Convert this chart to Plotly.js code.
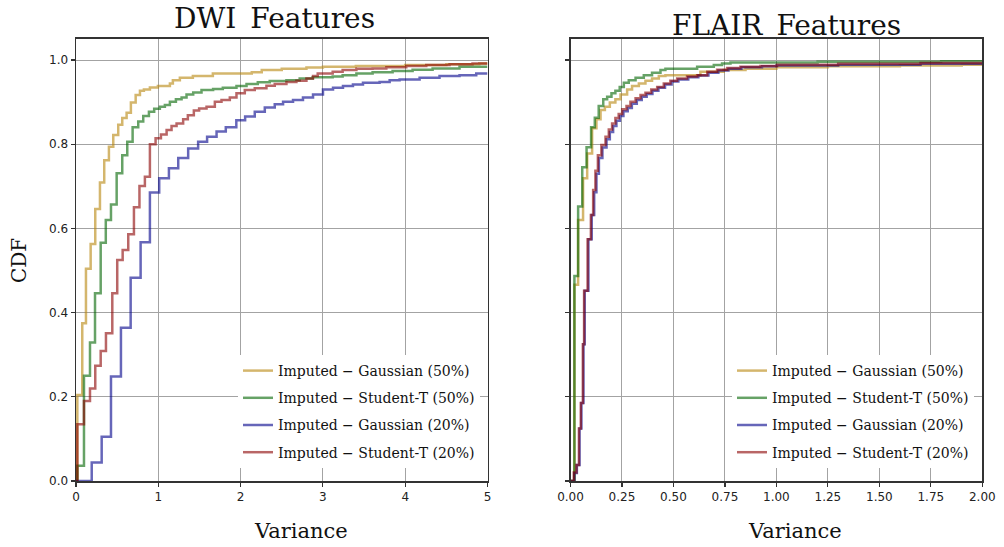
<!DOCTYPE html>
<html>
<head>
<meta charset="utf-8">
<script src="https://cdn.plot.ly/plotly-3.0.1.min.js"></script>
<style>
  html, body { margin: 0; padding: 0; background: #ffffff; }
  #chart { width: 1004px; height: 547px; }
</style>
</head>
<body>
<div id="chart"></div>
<script>
// ---------- Data ----------
const seriesNames = [
  "Imputed \u2212 Gaussian (50%)",
  "Imputed \u2212 Student-T (50%)",
  "Imputed \u2212 Gaussian (20%)",
  "Imputed \u2212 Student-T (20%)"
];

// DWI features: step CDF points (variance, cumulative fraction)
const dwiGauss50X = [0, 0.016, 0.076, 0.121, 0.178, 0.234, 0.291, 0.343, 0.400, 0.453, 0.513, 0.562, 0.615, 0.667, 0.725, 0.777, 0.825, 0.898, 0.995, 1.141, 1.177, 1.262, 1.420, 1.663, 2.136, 2.257, 2.50, 2.80, 3.00, 3.40, 4.00, 4.50, 4.90, 5.00];
const dwiGauss50Y = [0, 0.204, 0.375, 0.504, 0.563, 0.646, 0.709, 0.762, 0.794, 0.822, 0.846, 0.862, 0.875, 0.899, 0.917, 0.927, 0.930, 0.935, 0.938, 0.944, 0.952, 0.958, 0.962, 0.968, 0.971, 0.976, 0.979, 0.982, 0.984, 0.986, 0.988, 0.990, 0.992, 0.992];

const dwiStud50X = [0, 0.016, 0.097, 0.170, 0.231, 0.300, 0.362, 0.425, 0.494, 0.562, 0.623, 0.688, 0.756, 0.817, 0.886, 0.950, 1.019, 1.080, 1.141, 1.214, 1.283, 1.343, 1.424, 1.525, 1.666, 1.784, 1.950, 2.072, 2.209, 2.354, 2.557, 2.718, 2.876, 3.119, 3.240, 3.407, 3.604, 3.847, 4.090, 4.333, 4.660, 5.000];
const dwiStud50Y = [0, 0.036, 0.250, 0.329, 0.446, 0.566, 0.620, 0.657, 0.731, 0.774, 0.806, 0.840, 0.854, 0.867, 0.877, 0.884, 0.889, 0.893, 0.901, 0.907, 0.911, 0.918, 0.923, 0.929, 0.931, 0.934, 0.938, 0.943, 0.947, 0.950, 0.952, 0.956, 0.959, 0.961, 0.964, 0.968, 0.971, 0.974, 0.977, 0.980, 0.984, 0.984];

const dwiGauss20X = [0, 0.191, 0.312, 0.425, 0.546, 0.664, 0.785, 0.898, 1.011, 1.129, 1.242, 1.363, 1.484, 1.593, 1.708, 1.820, 1.948, 2.055, 2.172, 2.294, 2.415, 2.516, 2.637, 2.758, 2.880, 3.001, 3.123, 3.244, 3.365, 3.487, 3.689, 3.811, 3.932, 4.175, 4.417, 4.660, 4.863, 5.000];
const dwiGauss20Y = [0, 0.044, 0.105, 0.248, 0.364, 0.483, 0.567, 0.685, 0.719, 0.743, 0.767, 0.790, 0.806, 0.818, 0.830, 0.840, 0.857, 0.866, 0.877, 0.887, 0.895, 0.901, 0.905, 0.911, 0.918, 0.930, 0.934, 0.938, 0.942, 0.946, 0.948, 0.952, 0.954, 0.958, 0.962, 0.964, 0.968, 0.968];

const dwiStud20X = [0, 0.016, 0.097, 0.170, 0.234, 0.300, 0.364, 0.441, 0.501, 0.567, 0.635, 0.704, 0.771, 0.837, 0.898, 0.967, 1.032, 1.101, 1.161, 1.222, 1.302, 1.359, 1.432, 1.496, 1.586, 1.687, 1.768, 1.869, 1.950, 2.051, 2.172, 2.314, 2.415, 2.557, 2.678, 2.800, 2.880, 2.937, 3.119, 3.240, 3.407, 3.604, 3.771, 4.013, 4.256, 4.539, 4.818, 5.000];
const dwiStud20Y = [0, 0.135, 0.190, 0.220, 0.274, 0.309, 0.351, 0.446, 0.525, 0.549, 0.586, 0.650, 0.701, 0.723, 0.800, 0.814, 0.823, 0.834, 0.843, 0.849, 0.859, 0.869, 0.880, 0.885, 0.889, 0.901, 0.905, 0.911, 0.921, 0.929, 0.933, 0.939, 0.943, 0.948, 0.951, 0.956, 0.962, 0.968, 0.972, 0.976, 0.979, 0.980, 0.983, 0.986, 0.988, 0.990, 0.992, 0.992];

// FLAIR features
const flairGauss50X = [0, 0.019, 0.037, 0.061, 0.081, 0.105, 0.126, 0.146, 0.167, 0.191, 0.218, 0.243, 0.275, 0.299, 0.332, 0.364, 0.396, 0.429, 0.461, 0.631, 0.744, 0.850, 1.000, 1.250, 1.600, 1.900, 2.000];
const flairGauss50Y = [0, 0.466, 0.620, 0.719, 0.778, 0.838, 0.859, 0.881, 0.889, 0.899, 0.907, 0.918, 0.930, 0.938, 0.944, 0.951, 0.956, 0.962, 0.964, 0.972, 0.976, 0.979, 0.983, 0.985, 0.987, 0.989, 0.989];

const flairStud50X = [0, 0.019, 0.037, 0.057, 0.078, 0.100, 0.118, 0.137, 0.159, 0.178, 0.199, 0.218, 0.239, 0.259, 0.283, 0.316, 0.356, 0.396, 0.437, 0.461, 0.615, 0.696, 0.736, 0.777, 1.200, 1.800, 2.000];
const flairStud50Y = [0, 0.487, 0.652, 0.745, 0.793, 0.840, 0.863, 0.891, 0.907, 0.913, 0.921, 0.927, 0.936, 0.946, 0.952, 0.958, 0.964, 0.970, 0.976, 0.979, 0.984, 0.988, 0.992, 0.994, 0.996, 0.997, 0.997];

const flairGauss20X = [0, 0.019, 0.031, 0.044, 0.053, 0.063, 0.069, 0.087, 0.103, 0.115, 0.126, 0.138, 0.155, 0.175, 0.191, 0.207, 0.223, 0.240, 0.257, 0.278, 0.298, 0.322, 0.346, 0.370, 0.398, 0.427, 0.459, 0.491, 0.524, 0.572, 0.621, 0.670, 0.718, 0.767, 0.830, 0.930, 1.000, 1.300, 1.700, 2.000];
const flairGauss20Y = [0, 0.019, 0.038, 0.125, 0.185, 0.325, 0.452, 0.574, 0.632, 0.686, 0.730, 0.767, 0.792, 0.812, 0.829, 0.843, 0.856, 0.867, 0.878, 0.886, 0.896, 0.905, 0.913, 0.919, 0.927, 0.934, 0.942, 0.949, 0.954, 0.959, 0.963, 0.970, 0.975, 0.979, 0.983, 0.985, 0.987, 0.989, 0.991, 0.991];

const flairStud20X = [0, 0.016, 0.029, 0.041, 0.050, 0.060, 0.066, 0.083, 0.099, 0.110, 0.121, 0.133, 0.150, 0.170, 0.186, 0.202, 0.218, 0.234, 0.251, 0.272, 0.291, 0.316, 0.340, 0.364, 0.392, 0.421, 0.453, 0.485, 0.518, 0.566, 0.615, 0.664, 0.712, 0.761, 0.825, 0.922, 1.003, 1.300, 1.700, 2.000];
const flairStud20Y = [0, 0.020, 0.038, 0.125, 0.185, 0.325, 0.452, 0.574, 0.632, 0.691, 0.737, 0.774, 0.798, 0.818, 0.835, 0.849, 0.862, 0.872, 0.883, 0.891, 0.901, 0.909, 0.917, 0.922, 0.930, 0.936, 0.944, 0.951, 0.956, 0.961, 0.964, 0.972, 0.977, 0.981, 0.984, 0.986, 0.989, 0.991, 0.993, 0.993];

const xTicksDWI = [0, 1, 2, 3, 4, 5];
const xTicksFLAIR = [0, 0.25, 0.5, 0.75, 1.0, 1.25, 1.5, 1.75, 2.0];
const yTicks = [0, 0.2, 0.4, 0.6, 0.8, 1.0];

// ---------- Styling ----------
const colors = ["rgba(184,134,11,0.6)", "rgba(0,100,0,0.6)", "rgba(0,0,139,0.6)", "rgba(139,0,0,0.6)"];
const W = 1004, H = 547;
const px = v => v / W;           // pixel -> paper x
const py = v => (H - v) / H;     // pixel -> paper y

const dwiSets = [[dwiGauss50X, dwiGauss50Y], [dwiStud50X, dwiStud50Y], [dwiGauss20X, dwiGauss20Y], [dwiStud20X, dwiStud20Y]];
const flairSets = [[flairGauss50X, flairGauss50Y], [flairStud50X, flairStud50Y], [flairGauss20X, flairGauss20Y], [flairStud20X, flairStud20Y]];

const traces = [];
dwiSets.forEach((s, i) => {
  traces.push({
    type: "scatter", mode: "lines", x: s[0], y: s[1],
    line: { shape: "hv", color: colors[i], width: 2.5 },
    name: seriesNames[i], xaxis: "x", yaxis: "y",
    legend: "legend", legendgroup: "dwi" + i, showlegend: true, hoverinfo: "skip"
  });
});
flairSets.forEach((s, i) => {
  traces.push({
    type: "scatter", mode: "lines", x: s[0], y: s[1],
    line: { shape: "hv", color: colors[i], width: 2.5 },
    name: seriesNames[i], xaxis: "x2", yaxis: "y2",
    legend: "legend2", legendgroup: "flair" + i, showlegend: true, hoverinfo: "skip"
  });
});

const tickFont = { family: "DejaVu Sans, sans-serif", size: 12, color: "#222" };
const axisCommon = {
  showgrid: true, gridcolor: "#a3a3a3", gridwidth: 1,
  showline: true, linecolor: "#333", linewidth: 1.5, mirror: true,
  zeroline: false, ticks: "outside", ticklen: 4, tickwidth: 1.2, tickcolor: "#333",
  tickfont: tickFont, fixedrange: true
};
const yDom = [py(481), py(38.5)];
const legendCommon = {
  bgcolor: "#ffffff", borderwidth: 0, xanchor: "left", yanchor: "top",
  font: { family: "DejaVu Serif, serif", size: 14, color: "#111" },
  traceorder: "grouped", tracegroupgap: 6
};
const annFont = (s) => ({ family: "DejaVu Serif, serif", size: s, color: "#111" });

const layout = {
  width: W, height: H,
  margin: { l: 0, r: 0, t: 0, b: 0 },
  paper_bgcolor: "#ffffff", plot_bgcolor: "#ffffff",
  xaxis: Object.assign({}, axisCommon, { domain: [px(76), px(487.5)], range: [0, 5], tickvals: xTicksDWI, tickformat: "d", anchor: "y" }),
  yaxis: Object.assign({}, axisCommon, { domain: yDom, range: [0, 1.0511], tickvals: yTicks, tickformat: ".1f", anchor: "x" }),
  xaxis2: Object.assign({}, axisCommon, { domain: [px(570.5), px(982.3)], range: [0, 2], tickvals: xTicksFLAIR, tickformat: ".2f", anchor: "y2" }),
  yaxis2: Object.assign({}, axisCommon, { domain: yDom, range: [0, 1.0511], tickvals: yTicks, showticklabels: false, anchor: "x2" }),
  legend: Object.assign({}, legendCommon, { x: px(238), y: py(355) }),
  legend2: Object.assign({}, legendCommon, { x: px(732), y: py(355) }),
  annotations: [
    { text: "DWI\u2002Features", xref: "paper", yref: "paper", x: px(274), y: py(18.8), xanchor: "center", yanchor: "middle", showarrow: false, font: annFont(28) },
    { text: "FLAIR\u2002Features", xref: "paper", yref: "paper", x: px(786.7), y: py(25.5), xanchor: "center", yanchor: "middle", showarrow: false, font: annFont(28) },
    { text: "Variance", xref: "paper", yref: "paper", x: px(301), y: py(531.3), xanchor: "center", yanchor: "middle", showarrow: false, font: annFont(21) },
    { text: "Variance", xref: "paper", yref: "paper", x: px(795), y: py(531.3), xanchor: "center", yanchor: "middle", showarrow: false, font: annFont(21) },
    { text: "CDF", xref: "paper", yref: "paper", x: px(19), y: py(261), xanchor: "center", yanchor: "middle", textangle: -90, showarrow: false, font: annFont(20) }
  ]
};

Plotly.newPlot("chart", traces, layout, { displayModeBar: false, staticPlot: true });
</script>
</body>
</html>
